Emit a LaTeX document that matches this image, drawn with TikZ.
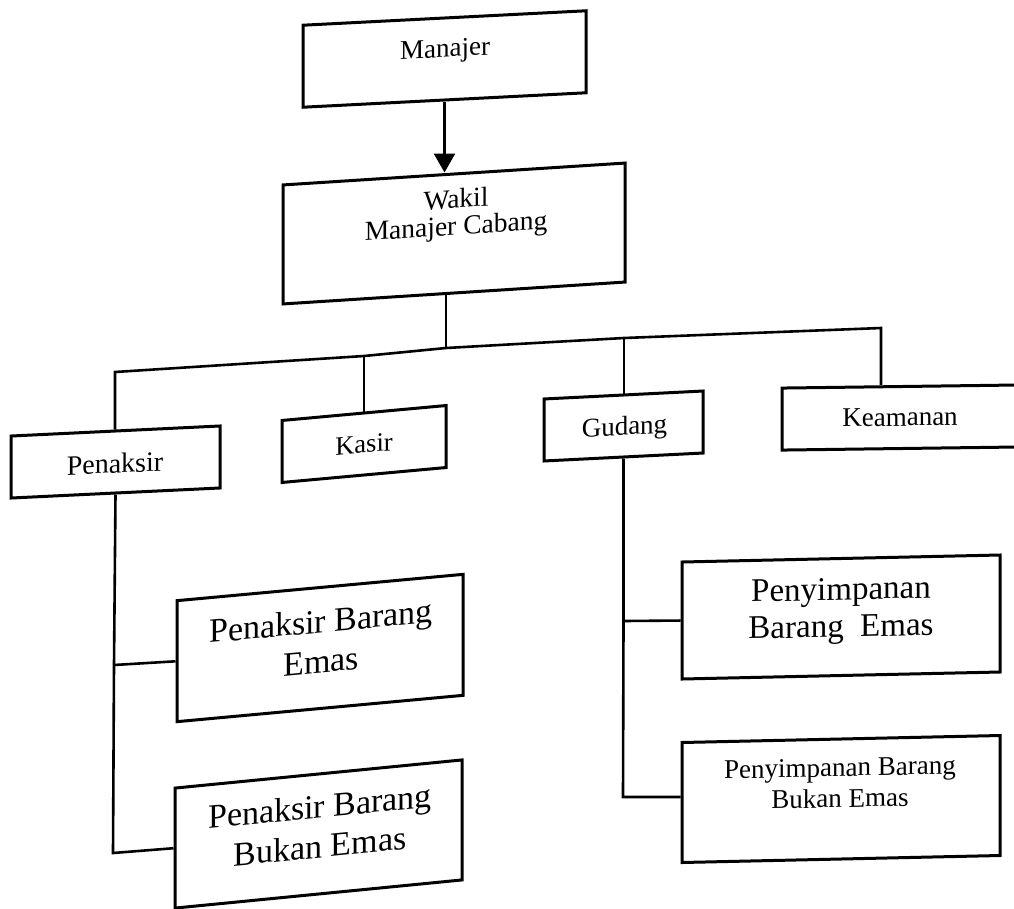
\documentclass[tikz,border=0pt]{standalone}
\usepackage{fontspec}
\setmainfont{Liberation Serif}
\usetikzlibrary{arrows.meta}
\begin{document}
\begin{tikzpicture}[x=1pt,y=-1pt,
  box/.style={draw, line width=3pt, inner sep=0pt},
  conn/.style={line width=2.6pt},
  txt/.style={inner sep=0pt, align=center}]
\useasboundingbox (0,0) rectangle (1014,908);
% boxes
\node[box, minimum width=283pt, minimum height=82pt, yslant=0.051] (manajer) at (444.5,59) {};
\node[box, minimum width=342pt, minimum height=119pt, yslant=0.064] (wakil) at (454,233.5) {};
\node[box, minimum width=209pt, minimum height=62pt, yslant=0.048] (penaksir) at (115.5,462) {};
\node[box, minimum width=164pt, minimum height=62pt, yslant=0.091] (kasir) at (364,444) {};
\node[box, minimum width=159pt, minimum height=62pt, yslant=0.05] (gudang) at (623.5,426) {};
\node[box, minimum width=240pt, minimum height=62pt, yslant=0.013] (keamanan) at (902,417.5) {};
\node[box, minimum width=286pt, minimum height=121pt, yslant=0.092] (pbe) at (320,648) {};
\node[box, minimum width=287pt, minimum height=120pt, yslant=0.098] (pbbe) at (318.5,834) {};
\node[box, minimum width=318pt, minimum height=117pt, yslant=0.022] (penybe) at (841,617) {};
\node[box, minimum width=318pt, minimum height=120pt, yslant=0.022] (penybbe) at (841,799) {};
% texts
\node[txt, anchor=base, yslant=0.051, font=\fontsize{27}{26}\selectfont] (manajer-t) at (445,57) {Manajer};
\node[txt, yslant=0.064, font=\fontsize{27.5}{26}\selectfont] (wakil-t) at (456,215) {Wakil\\[1pt]Manajer Cabang};
\node[txt, anchor=base, yslant=0.048, font=\fontsize{28}{28}\selectfont] (penaksir-t) at (115,473) {Penaksir};
\node[txt, anchor=base, yslant=0.091, font=\fontsize{26.5}{26}\selectfont] (kasir-t) at (364,453) {Kasir};
\node[txt, anchor=base, yslant=0.05, font=\fontsize{27}{26}\selectfont] (gudang-t) at (624.5,435) {Gudang};
\node[txt, anchor=base, yslant=0.013, font=\fontsize{27}{26}\selectfont] (keamanan-t) at (900,426) {Keamanan};
\node[txt, yslant=0.092, font=\fontsize{34}{39}\selectfont] (pbe-t) at (321,641) {Penaksir Barang\\[1pt]Emas};
\node[txt, yslant=0.098, font=\fontsize{34}{39}\selectfont] (pbbe-t) at (320,826) {Penaksir Barang\\[1pt]Bukan Emas};
\node[txt, yslant=0.022, font=\fontsize{33}{37}\selectfont] (penybe-t) at (841,611) {Penyimpanan\\Barang~~Emas};
\node[txt, yslant=0.022, font=\fontsize{27}{30}\selectfont] (penybbe-t) at (840,783) {Penyimpanan Barang\\[1pt]Bukan Emas};
% connectors
\draw[conn, -{Triangle[width=21pt,length=19pt]}] (manajer.south) -- (manajer.south |- wakil.north);
\coordinate (bL) at (115,372);
\coordinate (bK) at (364,356);
\coordinate (bW) at (446,348);
\coordinate (bG) at (624,338);
\coordinate (bR) at (881,328);
\draw[conn] (bW |- wakil.south) -- (bW);
\draw[conn] (bL |- penaksir.north) -- (bL) -- (bK) -- (bW) -- (bG) -- (bR) -- (bR |- keamanan.north);
\draw[conn] (bK) -- (bK |- kasir.north);
\draw[conn] (bG) -- (bG |- gudang.north);
\coordinate (pj1) at (114,665);
\coordinate (pj2) at (113,853);
\draw[conn] (penaksir.south) -- (pj1) -- (pj2) -- (pbbe.west);
\draw[conn] (pj1) -- (pbe.west);
\coordinate (gj1) at (623.5,621);
\coordinate (gj2) at (623,797);
\draw[conn] (gudang.south) -- (gj1) -- (gj2) -- (gj2 -| penybbe.west);
\draw[conn] (gj1) -- (penybe.west);
\end{tikzpicture}
\end{document}
